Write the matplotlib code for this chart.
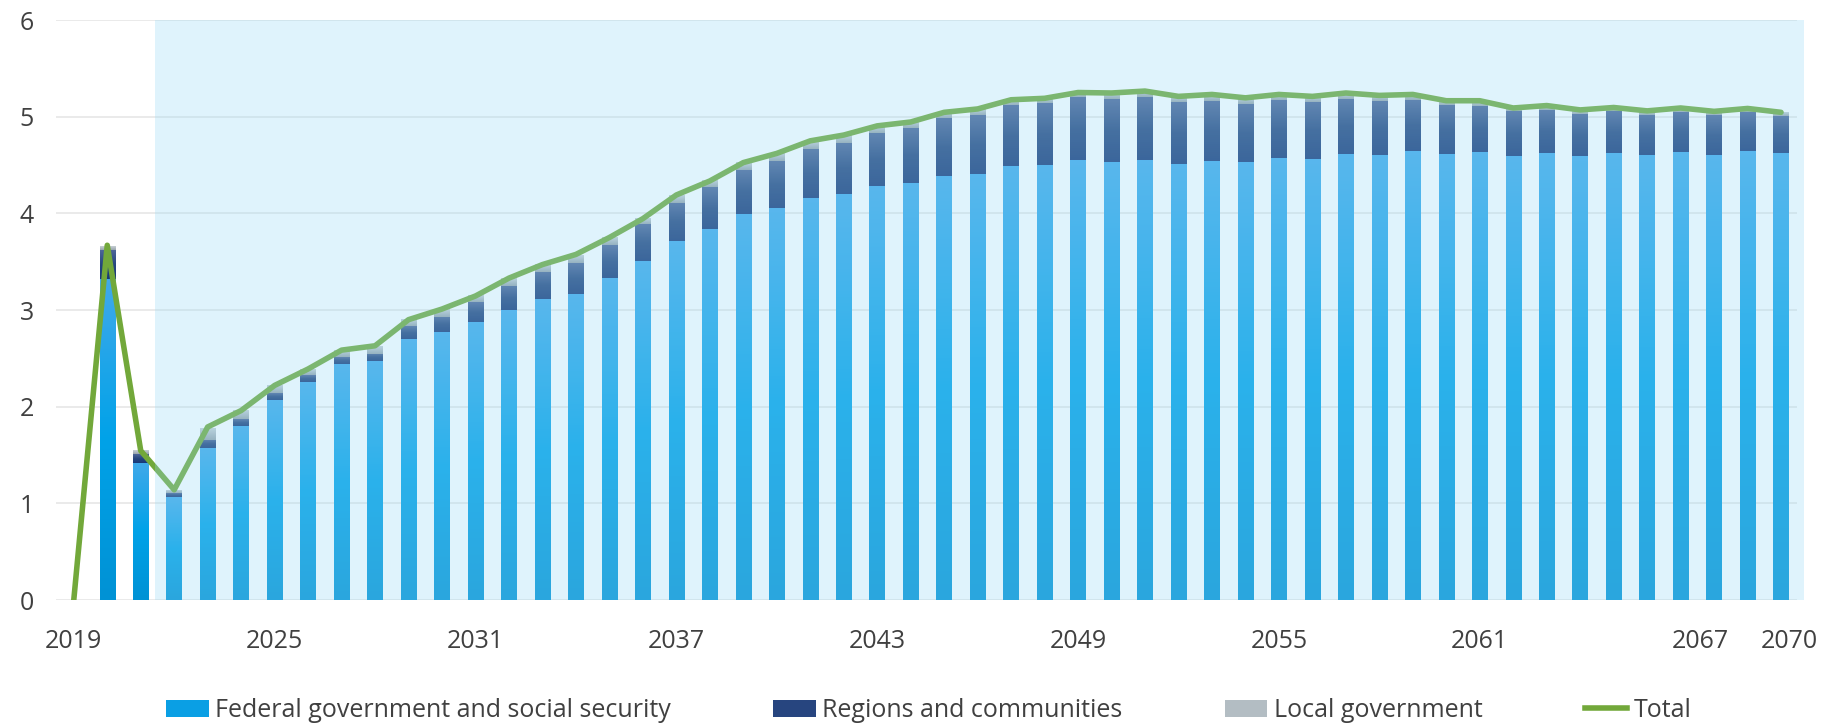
import numpy as np
import matplotlib.pyplot as plt
from matplotlib.colors import LinearSegmentedColormap
from matplotlib.patches import Patch
from matplotlib.lines import Line2D
from matplotlib.transforms import ScaledTranslation

plt.rcParams['font.family'] = ['Open Sans', 'DejaVu Sans']

# データ
years = list(range(2019, 2071))
federal = [0.0, 3.32, 1.42, 1.065, 1.57, 1.80, 2.07, 2.26, 2.44, 2.47,
           2.70, 2.77, 2.88, 3.00, 3.11, 3.17, 3.33, 3.51, 3.71, 3.84,
           3.99, 4.06, 4.16, 4.20, 4.285, 4.31, 4.39, 4.41, 4.49, 4.50,
           4.55, 4.53, 4.555, 4.51, 4.545, 4.53, 4.57, 4.56, 4.615, 4.60,
           4.645, 4.61, 4.635, 4.595, 4.625, 4.59, 4.625, 4.60, 4.635, 4.605,
           4.645, 4.62]
regions = [0.0, 0.30, 0.09, 0.04, 0.09, 0.07, 0.07, 0.07, 0.07, 0.08,
           0.13, 0.16, 0.20, 0.25, 0.28, 0.32, 0.34, 0.38, 0.40, 0.43,
           0.46, 0.48, 0.51, 0.53, 0.55, 0.57, 0.595, 0.61, 0.63, 0.64,
           0.65, 0.65, 0.645, 0.64, 0.62, 0.60, 0.60, 0.59, 0.57, 0.56,
           0.53, 0.51, 0.48, 0.46, 0.445, 0.44, 0.43, 0.42, 0.415, 0.41,
           0.40, 0.39]
local = [0.0, 0.04, 0.035, 0.03, 0.12, 0.09, 0.08, 0.06, 0.07, 0.08,
         0.07, 0.08, 0.07, 0.08, 0.08, 0.08, 0.08, 0.06, 0.08, 0.07,
         0.08, 0.08, 0.08, 0.08, 0.07, 0.065, 0.06, 0.06, 0.055, 0.05,
         0.05, 0.07, 0.065, 0.06, 0.065, 0.065, 0.055, 0.06, 0.06, 0.06,
         0.06, 0.045, 0.05, 0.035, 0.045, 0.04, 0.04, 0.045, 0.04, 0.04,
         0.04, 0.035]
total = [0.0, 3.67, 1.545, 1.14, 1.79, 1.96, 2.22, 2.39, 2.585, 2.63,
         2.90, 3.01, 3.145, 3.33, 3.47, 3.575, 3.75, 3.945, 4.19, 4.335,
         4.525, 4.62, 4.75, 4.81, 4.905, 4.945, 5.045, 5.08, 5.175, 5.19,
         5.25, 5.245, 5.265, 5.21, 5.23, 5.195, 5.23, 5.21, 5.245, 5.22,
         5.23, 5.165, 5.165, 5.09, 5.115, 5.07, 5.095, 5.06, 5.09, 5.055,
         5.085, 5.045]
tick_years = [2019, 2025, 2031, 2037, 2043, 2049, 2055, 2061, 2067, 2070]

labels = ['Federal government and social security', 'Regions and communities',
          'Local government', 'Total']

# グラデーション(下, 中, 上)
grad_fed = ['#0092D5', '#00A2E8', '#40A9EA']
grad_reg = ['#183878', '#26467F', '#4E6698']
grad_loc = ['#98A4AC', '#B0BAC1', '#C8D0D5']
text_col = '#404040'
green = '#72A83A'

fig = plt.figure(figsize=(18.43, 7.25), dpi=100)
ax = fig.add_axes([0.0304, 0.1724, 0.9447, 0.8])

width = 0.46
grad = np.linspace(0, 1, 64).reshape(-1, 1)


def draw_stack(values, bottoms, colors):
    cmap = LinearSegmentedColormap.from_list('g', colors)
    for x, v, b in zip(years, values, bottoms):
        if v <= 0:
            continue
        ax.imshow(grad, cmap=cmap, origin='lower', aspect='auto',
                  interpolation='bilinear',
                  extent=[x - width / 2, x + width / 2, b, b + v], zorder=2)


b0 = np.zeros(len(years))
draw_stack(federal, b0, grad_fed)
b1 = b0 + np.array(federal)
draw_stack(regions, b1, grad_reg)
b2 = b1 + np.array(regions)
draw_stack(local, b2, grad_loc)

ax.plot(years, total, color=green, lw=4.0, zorder=4,
        solid_joinstyle='round', solid_capstyle='round')

# 予測期間の網掛け
ax.axvspan(2021.43, 2070.69, color='#94D9F5', alpha=0.29, lw=0, zorder=5,
           clip_on=False)

ax.set_xlim(2018.47, 2070.48)
ax.set_ylim(0, 6)
ax.set_yticks(range(0, 7))
ax.set_xticks(tick_years)
ax.grid(axis='y', color='#E6E6E6', lw=1.2, zorder=0)
ax.set_axisbelow(True)
for s in ax.spines.values():
    s.set_visible(False)
ax.tick_params(length=0, labelsize=18, colors=text_col)
ax.tick_params(axis='y', pad=16)
ax.tick_params(axis='x', pad=21)

# 右端のラベルを少しずらす
shift = {2067: 0.20, 2070: 0.08}
for lab in ax.get_xticklabels():
    dx = shift.get(int(lab.get_text()), 0)
    lab.set_transform(lab.get_transform() +
                      ScaledTranslation(dx, 0, fig.dpi_scale_trans))

handles = [Patch(facecolor='#0A9FE4', edgecolor='none'),
           Patch(facecolor='#27457F', edgecolor='none'),
           Patch(facecolor='#B3BDC3', edgecolor='none'),
           Line2D([0], [0], color=green, lw=4)]
fig.legend(handles, labels, loc='center', bbox_to_anchor=(0.504, 0.02),
           ncol=4, frameon=False, fontsize=18, labelcolor=text_col,
           handlelength=1.7, handleheight=0.7, handletextpad=0.25,
           columnspacing=4.1)

fig.savefig('out.png', dpi=100)
